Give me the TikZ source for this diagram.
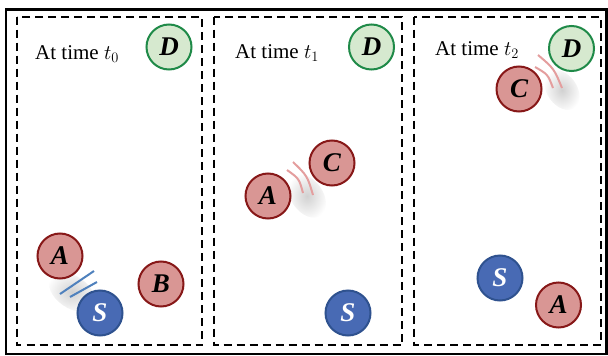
\documentclass[tikz,border=0pt]{standalone}
\usepackage{fontspec}
\setmainfont{Liberation Serif}
\definecolor{redf}{RGB}{217,150,148}
\definecolor{redb}{RGB}{135,24,24}
\definecolor{greenf}{RGB}{214,233,207}
\definecolor{greenb}{RGB}{31,138,72}
\definecolor{bluef}{RGB}{72,106,180}
\definecolor{blueb}{RGB}{47,82,143}
\definecolor{linkblue}{RGB}{79,129,189}
\definecolor{linkred}{RGB}{228,158,158}
\begin{document}
\begin{tikzpicture}[x=1pt,y=-1pt,
  nodebase/.style={circle, minimum size=45pt, inner sep=0pt, line width=2pt,
    font=\fontsize{27}{27}\selectfont\bfseries\itshape},
  rnode/.style={nodebase, draw=redb, fill=redf},
  gnode/.style={nodebase, draw=greenb, fill=greenf},
  bnode/.style={nodebase, draw=blueb, fill=bluef, text=white},
  panelbox/.style={draw, line width=2pt, dash pattern=on 8pt off 5pt},
  lbl/.style={anchor=base west, inner sep=0pt, font=\fontsize{21}{24}\selectfont},
  bluelink/.style={draw=linkblue, line width=2pt},
  redlink/.style={draw=linkred, line width=2pt},
  glow/.style={inner color=black!18, outer color=white}
]
\useasboundingbox (0,0) rectangle (608,356);
\draw[line width=2.5pt] (6,9.5) rectangle (606.5,354);
% panels
\draw[panelbox] (17,16.5) rectangle (202,345);
\draw[panelbox] (214,16.5) rectangle (402,345);
\draw[panelbox] (414,16.5) rectangle (601,344.5);
% glows
\shade[glow, rotate around={-35:(72,292)}] (72,292) ellipse (26pt and 16pt);
\shade[glow, rotate around={-55:(307,196)}] (307,196) ellipse (24pt and 16pt);
\shade[glow, rotate around={-55:(562,90)}] (562,90) ellipse (22pt and 15pt);
% link marks
\draw[bluelink] (60,294) -- (94,271);
\draw[bluelink] (70,297) -- (97,282);
\draw[redlink] (287,170) .. controls (299.1,178.6) .. (303,193);
\draw[redlink] (293,162) .. controls (307.3,175.9) .. (313,195);
\draw[redlink] (535,67) .. controls (547.8,74.3) .. (553,88);
\draw[redlink] (538,55) .. controls (554,68.6) .. (562,88);
% panel 1
\node[lbl] (l0) at (35,59) {At time $t_0$};
\node[gnode] (d0) at (169,47) {D};
\node[rnode] (a0) at (60,256) {A};
\node[rnode] (b0) at (161,284) {B};
\node[bnode] (s0) at (100,313) {S};
% panel 2
\node[lbl] (l1) at (235,58) {At time $t_1$};
\node[gnode] (d1) at (371.5,47) {D};
\node[rnode] (a1) at (268,196) {A};
\node[rnode] (c1) at (332,163) {C};
\node[bnode] (s1) at (348,313) {S};
% panel 3
\node[lbl] (l2) at (435,55) {At time $t_2$};
\node[gnode] (d2) at (571.5,48.5) {D};
\node[rnode] (c2) at (519,89) {C};
\node[bnode] (s2) at (500,278) {S};
\node[rnode] (a2) at (558.5,305) {A};
\end{tikzpicture}
\end{document}
